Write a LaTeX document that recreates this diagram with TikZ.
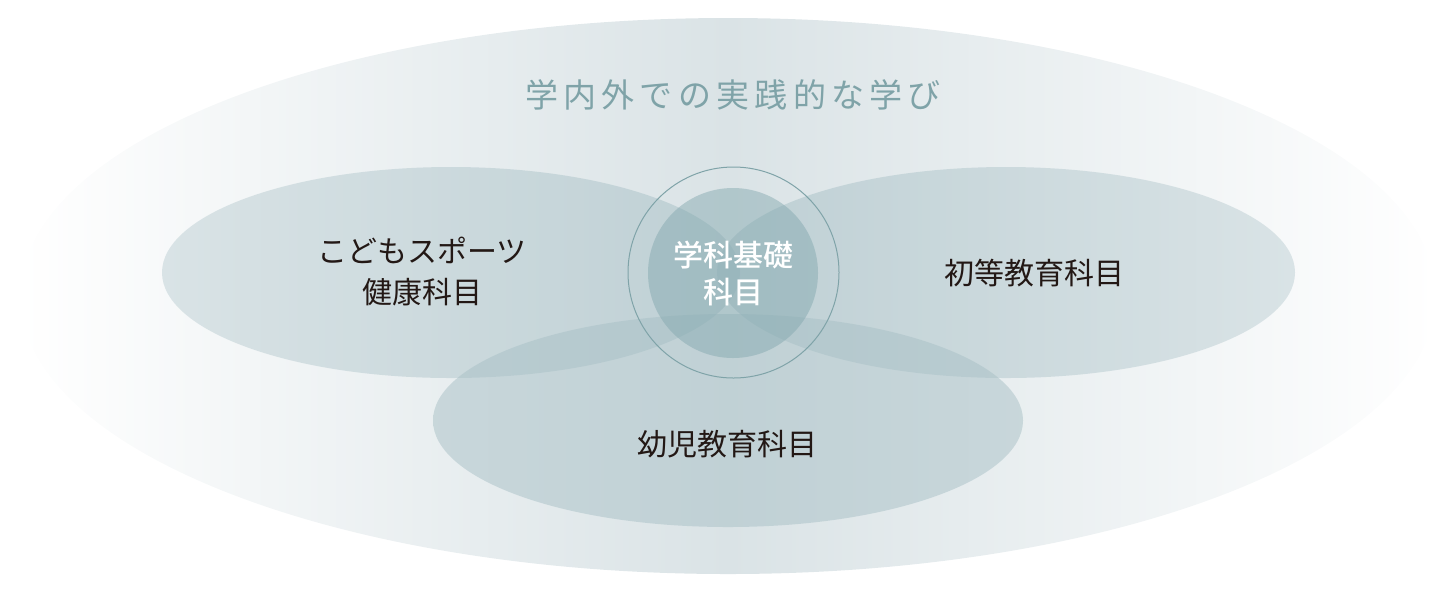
\documentclass[tikz,border=0pt]{standalone}
\usepackage{fontspec}
\setmainfont{Noto Sans CJK JP}
\newfontfamily\medfont{Noto Sans CJK JP Medium}
\usetikzlibrary{shapes.geometric, positioning}
\definecolor{mybg}{HTML}{DAE3E6}
\definecolor{mysub}{HTML}{A4BEC4}
\definecolor{mysubl}{HTML}{BCCED3}
\definecolor{mycore}{HTML}{7FA5AC}
\definecolor{myring}{HTML}{7FA3A8}
\definecolor{mytext}{HTML}{231815}

\begin{document}
\begin{tikzpicture}[x=0.5pt, y=-0.5pt, font=\fontsize{15pt}{20.5pt}\selectfont,
    subject/.style={ellipse, inner sep=0pt, minimum width=289pt, minimum height=105.5pt, fill opacity=0.5},
    label/.style={text=mytext, align=center, inner sep=0pt}]
    \useasboundingbox (0,0) rectangle (1454,591);
    % outer field
    \node[ellipse, inner sep=0pt, minimum width=708pt, minimum height=278pt,
        left color=white, right color=white, middle color=mybg] (field) at (728,296) {};
    \node[text=myring, font=\fontsize{16.5pt}{18pt}\selectfont\addfontfeatures{LetterSpace=16}] (title) at (733,95) {学内外での実践的な学び};
    % three subject areas
    \node[subject, left color=mysubl, right color=mysub] (sport) at (451,272.5) {};
    \node[subject, left color=mysub, right color=mysubl] (elem) at (1006,272.5) {};
    \node[subject, minimum width=295pt, minimum height=106.5pt, left color=mysub!85!mysubl, right color=mysub!85!mysubl] (child) at (728,420.5) {};
    % core
    \node[circle, inner sep=0pt, minimum size=105.5pt, draw=myring, line width=0.5pt] (ring) at (733.5,272.5) {};
    \node[circle, inner sep=0pt, minimum size=85pt, fill=mycore, fill opacity=0.45] (core) at (733,273) {};
    \node[text=white, align=center, inner sep=0pt, font=\fontsize{15pt}{18.5pt}\medfont] (coretxt) at (733,273) {学科基礎\\科目};
    % labels
    \node[label] (sporttxt) at (422,272) {こどもスポーツ\\健康科目};
    \node[label] (elemtxt) at (1034,273) {初等教育科目};
    \node[label] (childtxt) at (727,444) {幼児教育科目};
\end{tikzpicture}
\end{document}
